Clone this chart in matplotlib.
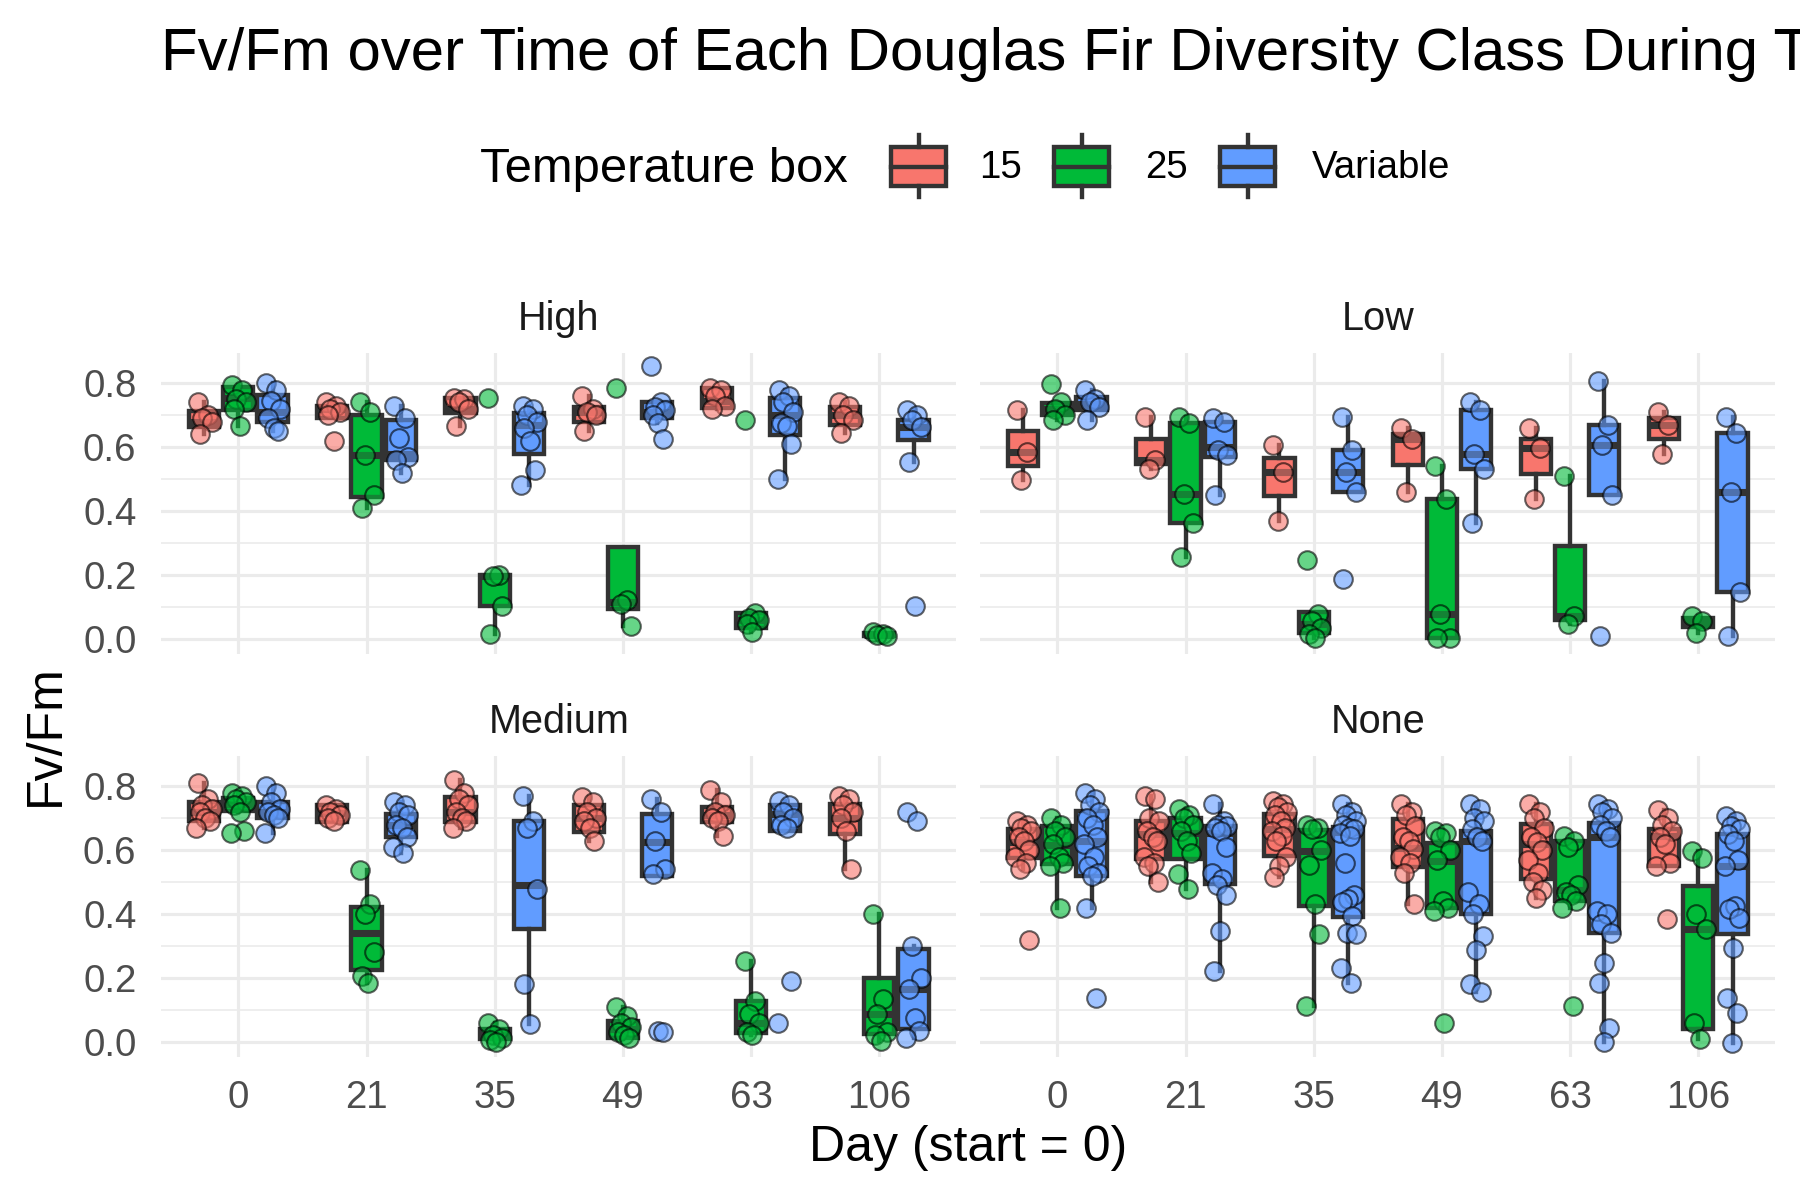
import matplotlib.pyplot as plt
from matplotlib.patches import Rectangle

DAYS = ["0", "21", "35", "49", "63", "106"]
GROUPS = ["15", "25", "Variable"]
COLORS = ["#F8766D", "#00BA38", "#619CFF"]
PANELS = ["High", "Low", "Medium", "None"]

# box stats, one tuple per day:
# (lower whisker, Q1, median, Q3, upper whisker)
high_15_box = [(0.64, 0.662, 0.68, 0.713, 0.74), (0.69, 0.69, 0.72, 0.73, 0.74), (0.665, 0.706, 0.72, 0.753, 0.755),
               (0.65, 0.68, 0.71, 0.727, 0.76), (0.72, 0.722, 0.745, 0.785, 0.785), (0.645, 0.67, 0.70, 0.727, 0.74)]
high_25_box = [(0.665, 0.717, 0.755, 0.79, 0.795), (0.41, 0.445, 0.575, 0.70, 0.74), (0.014, 0.103, 0.197, 0.20, 0.20),
               (0.04, 0.092, 0.115, 0.286, 0.286), (0.02, 0.035, 0.06, 0.082, 0.082), (0.005, 0.008, 0.012, 0.018, 0.02)]
high_v_box = [(0.65, 0.68, 0.71, 0.764, 0.80), (0.52, 0.56, 0.58, 0.685, 0.73), (0.48, 0.58, 0.67, 0.706, 0.73),
              (0.675, 0.69, 0.71, 0.743, 0.743), (0.50, 0.638, 0.70, 0.753, 0.78), (0.554, 0.622, 0.664, 0.685, 0.717)]

low_15_box = [(0.496, 0.541, 0.586, 0.651, 0.717), (0.533, 0.546, 0.559, 0.627, 0.696), (0.37, 0.446, 0.523, 0.565, 0.607),
              (0.46, 0.543, 0.625, 0.642, 0.659), (0.439, 0.517, 0.596, 0.627, 0.659), (0.58, 0.625, 0.67, 0.69, 0.711)]
low_25_box = [(0.685, 0.70, 0.72, 0.738, 0.738), (0.255, 0.362, 0.454, 0.675, 0.696), (0.003, 0.017, 0.045, 0.085, 0.085),
              (0.001, 0.003, 0.077, 0.439, 0.54), (0.045, 0.058, 0.071, 0.29, 0.509), (0.019, 0.0375, 0.056, 0.0635, 0.071)]
low_v_box = [(0.685, 0.717, 0.735, 0.757, 0.78), (0.449, 0.57, 0.60, 0.68, 0.69), (0.46, 0.46, 0.523, 0.59, 0.696),
             (0.362, 0.533, 0.58, 0.717, 0.743), (0.449, 0.449, 0.607, 0.67, 0.806), (0.008, 0.145, 0.46, 0.643, 0.696)]

med_15_box = [(0.67, 0.69, 0.72, 0.75, 0.81), (0.687, 0.687, 0.715, 0.74, 0.74), (0.67, 0.687, 0.72, 0.766, 0.82),
              (0.63, 0.656, 0.70, 0.74, 0.765), (0.645, 0.687, 0.71, 0.734, 0.79), (0.54, 0.65, 0.70, 0.745, 0.77)]
med_25_box = [(0.72, 0.724, 0.745, 0.764, 0.78), (0.185, 0.224, 0.34, 0.422, 0.538), (0.0, 0.007, 0.02, 0.04, 0.06),
              (0.007, 0.013, 0.04, 0.065, 0.11), (0.02, 0.028, 0.06, 0.128, 0.253), (0.002, 0.023, 0.086, 0.20, 0.40)]
med_v_box = [(0.655, 0.70, 0.72, 0.75, 0.80), (0.59, 0.64, 0.68, 0.713, 0.75), (0.054, 0.352, 0.49, 0.692, 0.771),
             (0.52, 0.52, 0.625, 0.713, 0.76), (0.66, 0.66, 0.713, 0.74, 0.755), (0.013, 0.039, 0.164, 0.29, 0.30)]

none_15_box = [(0.54, 0.577, 0.625, 0.666, 0.69), (0.50, 0.572, 0.65, 0.692, 0.77), (0.515, 0.583, 0.665, 0.713, 0.755),
               (0.43, 0.546, 0.608, 0.698, 0.745), (0.45, 0.51, 0.62, 0.682, 0.745), (0.55, 0.55, 0.645, 0.666, 0.725)]
none_25_box = [(0.42, 0.556, 0.615, 0.677, 0.70), (0.478, 0.572, 0.655, 0.70, 0.73), (0.112, 0.426, 0.598, 0.663, 0.68),
               (0.41, 0.42, 0.565, 0.624, 0.66), (0.42, 0.44, 0.475, 0.63, 0.645), (0.007, 0.039, 0.353, 0.488, 0.598)]
none_v_box = [(0.42, 0.52, 0.63, 0.724, 0.78), (0.222, 0.494, 0.655, 0.677, 0.745), (0.185, 0.39, 0.656, 0.672, 0.745),
              (0.155, 0.40, 0.63, 0.661, 0.745), (0.0, 0.339, 0.64, 0.684, 0.745), (-0.005, 0.337, 0.551, 0.65, 0.708)]

# individual Fv/Fm measurements, one list per day
high_15_pts = [[0.74, 0.70, 0.69, 0.68, 0.64], [0.74, 0.73, 0.72, 0.71, 0.70, 0.62], [0.755, 0.75, 0.74, 0.72, 0.665],
               [0.76, 0.72, 0.71, 0.70, 0.65], [0.785, 0.78, 0.76, 0.73, 0.72], [0.74, 0.73, 0.70, 0.685, 0.645]]
high_25_pts = [[0.795, 0.78, 0.75, 0.74, 0.72, 0.665], [0.74, 0.71, 0.575, 0.45, 0.41], [0.753, 0.20, 0.197, 0.103, 0.014],
               [0.785, 0.12, 0.11, 0.04], [0.685, 0.08, 0.065, 0.06, 0.045, 0.02], [0.02, 0.015, 0.01, 0.008]]
high_v_pts = [[0.80, 0.78, 0.745, 0.72, 0.69, 0.66, 0.65], [0.73, 0.69, 0.63, 0.57, 0.56, 0.52],
              [0.73, 0.72, 0.70, 0.68, 0.66, 0.62, 0.53, 0.48], [0.853, 0.743, 0.727, 0.717, 0.70, 0.675, 0.627],
              [0.78, 0.76, 0.74, 0.71, 0.675, 0.665, 0.61, 0.50], [0.717, 0.70, 0.685, 0.664, 0.554, 0.103]]

low_15_pts = [[0.717, 0.586, 0.496], [0.696, 0.559, 0.533], [0.607, 0.523, 0.37],
              [0.659, 0.625, 0.46], [0.659, 0.596, 0.439], [0.711, 0.67, 0.58]]
low_25_pts = [[0.797, 0.74, 0.72, 0.70, 0.685], [0.696, 0.675, 0.454, 0.362, 0.255],
              [0.245, 0.077, 0.056, 0.035, 0.014, 0.003], [0.54, 0.439, 0.077, 0.003, 0.001],
              [0.509, 0.071, 0.045], [0.071, 0.056, 0.019]]
low_v_pts = [[0.78, 0.75, 0.74, 0.727, 0.685], [0.69, 0.68, 0.59, 0.575, 0.449], [0.696, 0.59, 0.523, 0.46, 0.187],
             [0.743, 0.717, 0.58, 0.533, 0.362], [0.806, 0.67, 0.607, 0.449, 0.008], [0.696, 0.643, 0.46, 0.145, 0.008]]

med_15_pts = [[0.81, 0.76, 0.74, 0.73, 0.72, 0.70, 0.69, 0.67], [0.74, 0.73, 0.72, 0.71, 0.70, 0.69],
              [0.82, 0.78, 0.76, 0.74, 0.72, 0.70, 0.69, 0.67], [0.765, 0.75, 0.72, 0.70, 0.69, 0.67, 0.63],
              [0.79, 0.75, 0.72, 0.71, 0.70, 0.69, 0.645], [0.77, 0.76, 0.74, 0.72, 0.70, 0.66, 0.54]]
med_25_pts = [[0.78, 0.77, 0.76, 0.75, 0.74, 0.72, 0.66, 0.655], [0.538, 0.43, 0.40, 0.28, 0.205, 0.185],
              [0.06, 0.04, 0.02, 0.01, 0.005, 0.0], [0.11, 0.08, 0.06, 0.045, 0.03, 0.02, 0.01],
              [0.253, 0.128, 0.086, 0.06, 0.03, 0.02], [0.40, 0.133, 0.086, 0.03, 0.02, 0.002]]
med_v_pts = [[0.80, 0.78, 0.75, 0.73, 0.72, 0.71, 0.70, 0.655], [0.75, 0.74, 0.72, 0.71, 0.68, 0.67, 0.64, 0.61, 0.59],
             [0.771, 0.69, 0.67, 0.478, 0.18, 0.054], [0.76, 0.72, 0.63, 0.54, 0.525, 0.035, 0.03],
             [0.755, 0.74, 0.72, 0.70, 0.68, 0.67, 0.19, 0.06], [0.72, 0.69, 0.30, 0.20, 0.164, 0.075, 0.033, 0.013]]

none_15_pts = [[0.69, 0.68, 0.67, 0.66, 0.64, 0.63, 0.60, 0.58, 0.56, 0.54, 0.32],
               [0.77, 0.76, 0.70, 0.69, 0.66, 0.64, 0.63, 0.58, 0.56, 0.55, 0.50],
               [0.755, 0.745, 0.735, 0.72, 0.71, 0.69, 0.67, 0.66, 0.645, 0.63, 0.58, 0.55, 0.515],
               [0.745, 0.72, 0.71, 0.675, 0.64, 0.63, 0.605, 0.58, 0.56, 0.53, 0.43],
               [0.745, 0.72, 0.70, 0.67, 0.64, 0.625, 0.60, 0.57, 0.53, 0.50, 0.475, 0.45],
               [0.725, 0.70, 0.68, 0.66, 0.64, 0.62, 0.56, 0.55, 0.384]]
none_25_pts = [[0.70, 0.68, 0.66, 0.64, 0.62, 0.58, 0.56, 0.55, 0.42],
               [0.73, 0.71, 0.70, 0.68, 0.66, 0.63, 0.59, 0.525, 0.478],
               [0.68, 0.67, 0.665, 0.60, 0.555, 0.43, 0.337, 0.112],
               [0.66, 0.655, 0.64, 0.60, 0.57, 0.44, 0.42, 0.41, 0.057],
               [0.645, 0.63, 0.61, 0.49, 0.47, 0.46, 0.44, 0.42, 0.112],
               [0.598, 0.577, 0.40, 0.353, 0.06, 0.007]]
none_v_pts = [[0.78, 0.76, 0.74, 0.72, 0.70, 0.68, 0.64, 0.62, 0.58, 0.55, 0.53, 0.52, 0.42, 0.138],
              [0.745, 0.69, 0.68, 0.675, 0.67, 0.66, 0.61, 0.53, 0.51, 0.49, 0.46, 0.347, 0.222],
              [0.745, 0.72, 0.71, 0.69, 0.68, 0.67, 0.665, 0.655, 0.645, 0.56, 0.46, 0.447, 0.437, 0.394,
               0.342, 0.337, 0.232, 0.185],
              [0.745, 0.73, 0.70, 0.69, 0.665, 0.64, 0.63, 0.47, 0.43, 0.40, 0.33, 0.286, 0.18, 0.155],
              [0.745, 0.73, 0.72, 0.70, 0.68, 0.66, 0.64, 0.41, 0.40, 0.37, 0.34, 0.248, 0.185, 0.044, 0.0],
              [0.708, 0.69, 0.677, 0.665, 0.65, 0.63, 0.57, 0.551, 0.426, 0.415, 0.389, 0.295, 0.138, 0.09, -0.005]]

BOXES = {
    "High": [high_15_box, high_25_box, high_v_box],
    "Low": [low_15_box, low_25_box, low_v_box],
    "Medium": [med_15_box, med_25_box, med_v_box],
    "None": [none_15_box, none_25_box, none_v_box],
}
POINTS = {
    "High": [high_15_pts, high_25_pts, high_v_pts],
    "Low": [low_15_pts, low_25_pts, low_v_pts],
    "Medium": [med_15_pts, med_25_pts, med_v_pts],
    "None": [none_15_pts, none_25_pts, none_v_pts],
}

# fixed horizontal spread for the points (stands in for ggplot's jitter)
JITTER = [-0.05, 0.03, -0.015, 0.06, -0.035, 0.01, 0.045, -0.06, 0.02,
          -0.025, 0.05, 0.0, -0.045, 0.035, -0.005, 0.065, -0.055, 0.025]
DODGE = [-0.267, 0.0, 0.267]
EDGE = "#333333"

plt.rcParams["font.family"] = ["Liberation Sans", "DejaVu Sans"]

W, H = 1800, 1200
fig = plt.figure(figsize=(12, 8), dpi=150)

# panel boxes in pixels (left, top)
panel_xy = {"High": (161.4, 353), "Low": (980.4, 353), "Medium": (161.4, 756), "None": (980.4, 756)}
PW, PH = 794.8, 301

for name in PANELS:
    px, py = panel_xy[name]
    ax = fig.add_axes([px / W, 1 - (py + PH) / H, PW / W, PH / H])
    ax.set_xlim(-0.6, len(DAYS) - 0.4)
    ax.set_ylim(-0.048, 0.895)

    for g in range(3):
        stats = []
        for d in range(len(DAYS)):
            lo, q1, med, q3, hi = BOXES[name][g][d]
            stats.append(dict(whislo=lo, q1=q1, med=med, q3=q3, whishi=hi))
        pos = [d + DODGE[g] for d in range(len(DAYS))]
        ax.bxp(stats, positions=pos, widths=0.235, patch_artist=True,
               showfliers=False, showcaps=False,
               boxprops=dict(facecolor=COLORS[g], edgecolor=EDGE, linewidth=2.1),
               whiskerprops=dict(color=EDGE, linewidth=2.1),
               medianprops=dict(color=EDGE, linewidth=3.4, solid_capstyle="butt"),
               zorder=2)

        for d, vals in enumerate(POINTS[name][g]):
            xs = [d + DODGE[g] + JITTER[i % len(JITTER)] for i in range(len(vals))]
            ax.scatter(xs, vals, s=80, facecolor=COLORS[g], edgecolor="black",
                       linewidth=1.0, alpha=0.6, zorder=3)

    ax.set_xticks(range(len(DAYS)))
    ax.set_xticklabels(DAYS)
    ax.set_yticks([0.0, 0.2, 0.4, 0.6, 0.8])
    ax.set_yticklabels(["0.0", "0.2", "0.4", "0.6", "0.8"])
    ax.set_yticks([0.1, 0.3, 0.5, 0.7], minor=True)
    ax.grid(which="major", color="#EBEBEB", linewidth=1.5)
    ax.grid(which="minor", axis="y", color="#EBEBEB", linewidth=0.8)
    ax.set_axisbelow(True)
    for s in ax.spines.values():
        s.set_visible(False)
    ax.tick_params(which="both", length=0, labelsize=18.5, labelcolor="#4D4D4D")
    ax.tick_params(axis="y", pad=12)
    ax.tick_params(axis="x", pad=11)
    if name in ("High", "Low"):
        ax.tick_params(labelbottom=False)
    if name in ("Low", "None"):
        ax.tick_params(labelleft=False)
    ax.set_title(name, fontsize=19, color="#1A1A1A", pad=11)

# overlay in pixel coordinates for titles and the legend
ov = fig.add_axes([0, 0, 1, 1])
ov.set_xlim(0, W)
ov.set_ylim(H, 0)
ov.axis("off")
ov.patch.set_alpha(0)

# the title runs past the right edge of the figure, as in the original
ov.text(161, 70, "Fv/Fm over Time of Each Douglas Fir Diversity Class During Treatment",
        fontsize=28.8, va="baseline", ha="left")
ov.text(968, 1148, "Day (start = 0)", fontsize=24, ha="center", va="center")
ov.text(46, 735, "Fv/Fm", fontsize=24, ha="center", va="center", rotation=90)

ov.text(480, 169, "Temperature box", fontsize=23.5, ha="left", va="center")
key_x = [891, 1054, 1220]
lab_x = [979, 1145, 1312]
for g in range(3):
    x0 = key_x[g]
    ov.add_patch(Rectangle((x0, 147), 55, 39, facecolor=COLORS[g], edgecolor=EDGE, linewidth=2.1))
    ov.plot([x0, x0 + 55], [166.5, 166.5], color=EDGE, linewidth=2.1)
    ov.plot([x0 + 27.5, x0 + 27.5], [135, 147], color=EDGE, linewidth=2.1)
    ov.plot([x0 + 27.5, x0 + 27.5], [186, 197], color=EDGE, linewidth=2.1)
    ov.text(lab_x[g], 168, GROUPS[g], fontsize=18.5, ha="left", va="center")

fig.savefig("out.png", dpi=150)
